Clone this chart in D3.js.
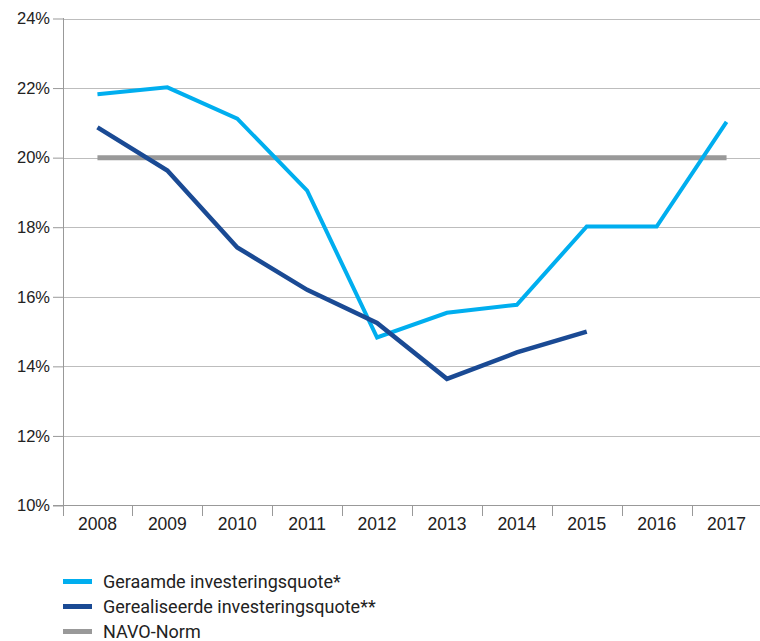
<!DOCTYPE html>
<html><head><meta charset="utf-8">
<script src="https://cdn.jsdelivr.net/npm/d3@7/dist/d3.min.js"></script>
<style>body{margin:0;background:#fff;}svg{display:block;font-family:Roboto,"Liberation Sans",sans-serif;}</style>
</head><body><svg id="c" width="760" height="641"></svg>
<script>
const years = ["2008","2009","2010","2011","2012","2013","2014","2015","2016","2017"];
const geraamd = [21.82,22.02,21.12,19.05,14.83,15.54,15.77,18.02,18.02,21.03];
const gerealiseerd = [20.87,19.63,17.42,16.2,15.25,13.64,14.4,15.0];
const navo = [20,20,20,20,20,20,20,20,20,20];
const yTicks = [10,12,14,16,18,20,22,24];
const legendLabels = ["Geraamde investeringsquote*","Gerealiseerde investeringsquote**","NAVO-Norm"];
const colors = ["#00aeef","#1a4a94","#999999"];

const svg = d3.select("#c");
const x = d3.scaleBand().domain(years).range([62.5,761.5]);
const y = d3.scaleLinear().domain([10,24]).range([505.5,18.5]);

// gridlines
svg.append("g").selectAll("line").data(yTicks.filter(d=>d>10)).join("line")
  .attr("x1",63).attr("x2",760).attr("y1",d=>Math.round(y(d))+0.5).attr("y2",d=>Math.round(y(d))+0.5)
  .attr("stroke","#bdbdbd").attr("stroke-width",1);

// y axis
const ya = svg.append("g").attr("transform","translate(63,0)")
  .call(d3.axisLeft(y).tickValues(yTicks).tickFormat(d=>d+"%").tickSize(10).tickPadding(6));
ya.select(".domain").remove();
ya.selectAll(".tick line").attr("stroke","#999");
ya.selectAll(".tick text").attr("font-size",16.5).attr("fill","#222").attr("x",-13);
svg.append("line").attr("x1",63.5).attr("x2",63.5).attr("y1",18).attr("y2",516).attr("stroke","#999");

// x axis
svg.append("line").attr("x1",53).attr("x2",760).attr("y1",505.5).attr("y2",505.5).attr("stroke","#999");
const xa = svg.append("g").attr("transform","translate(0,505.5)")
  .call(d3.axisBottom(x).tickSize(0).tickPadding(12));
xa.select(".domain").remove();
xa.selectAll(".tick text").attr("font-size",17.5).attr("fill","#222");
svg.append("g").selectAll("line").data(years.slice(1)).join("line")
  .attr("x1",d=>Math.round(x(d))+0.5).attr("x2",d=>Math.round(x(d))+0.5)
  .attr("y1",505).attr("y2",516).attr("stroke","#999");

const cx = d => x(d)+x.bandwidth()/2;
const line = d3.line().x((d,i)=>cx(years[i])).y(d=>y(d));

svg.append("path").datum(navo).attr("d",line).attr("fill","none").attr("stroke",colors[2]).attr("stroke-width",5);
svg.append("path").datum(geraamd).attr("d",line).attr("fill","none").attr("stroke",colors[0]).attr("stroke-width",4);
svg.append("path").datum(gerealiseerd).attr("d",line).attr("fill","none").attr("stroke",colors[1]).attr("stroke-width",4.5);

// legend
const lg = svg.append("g").selectAll("g").data(legendLabels).join("g")
  .attr("transform",(d,i)=>`translate(63,${581.5+i*25})`);
lg.append("line").attr("x1",0).attr("x2",29).attr("y1",0).attr("y2",0)
  .attr("stroke",(d,i)=>colors[i]).attr("stroke-width",5);
lg.append("text").attr("x",40).attr("y",0).attr("dy","0.35em").attr("font-size",18).attr("fill","#222").text(d=>d);
</script></body></html>
